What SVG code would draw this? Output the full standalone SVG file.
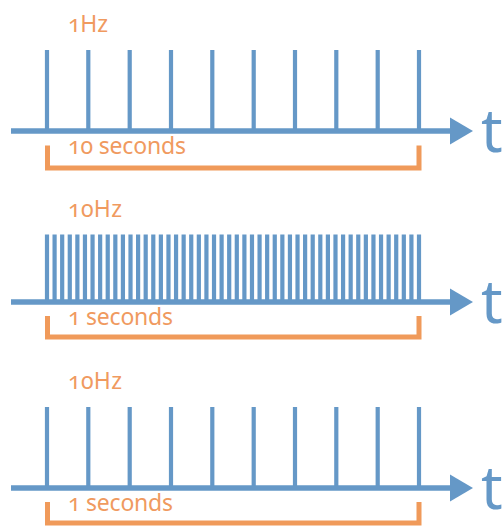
<svg xmlns="http://www.w3.org/2000/svg" width="503" height="526" viewBox="0 0 503 526">
  <style>
    .axis { stroke: #6598C7; stroke-width: 5.5; fill: none; }
    .spikes { stroke: #6598C7; stroke-width: 4.2; fill: none; }
    .head { fill: #6598C7; }
    .bracket { stroke: #F09A5A; stroke-width: 5; fill: none; stroke-linejoin: miter; }
    .lbl { font-family: "Noto Sans", "Open Sans", sans-serif; font-size: 23px; fill: #F09A5F; font-variant-numeric: oldstyle-nums; }
    .t { font-family: "Noto Sans", "Open Sans", sans-serif; font-size: 60px; fill: #6598C7; }
  </style>
  <rect width="503" height="526" fill="#ffffff"/>

  <!-- 1 Hz over 10 seconds -->
  <g id="panel-1hz">
    <path class="spikes" d="M47 50V131M88.3 50V131M129.7 50V131M171 50V131M212.3 50V131M253.7 50V131M295 50V131M336.3 50V131M377.7 50V131M419 50V131"/>
    <path class="axis" d="M11 131H452"/>
    <path class="head" d="M450 117.5L473 131L450 144.5Z"/>
    <text class="t" x="481" y="152">t</text>
    <text class="lbl" x="68" y="32" textLength="40" lengthAdjust="spacing">1Hz</text>
    <text class="lbl" x="68" y="154" textLength="118" lengthAdjust="spacing">10 seconds</text>
    <path class="bracket" d="M47.5 145.5V168H419V145.5"/>
  </g>

  <!-- 10 Hz over 1 second, dense -->
  <g id="panel-10hz-dense">
    <path class="spikes" d="M47 234.5V302M54.59 234.5V302M62.18 234.5V302M69.78 234.5V302M77.37 234.5V302M84.96 234.5V302M92.55 234.5V302M100.14 234.5V302M107.73 234.5V302M115.33 234.5V302M122.92 234.5V302M130.51 234.5V302M138.1 234.5V302M145.69 234.5V302M153.29 234.5V302M160.88 234.5V302M168.47 234.5V302M176.06 234.5V302M183.65 234.5V302M191.24 234.5V302M198.84 234.5V302M206.43 234.5V302M214.02 234.5V302M221.61 234.5V302M229.2 234.5V302M236.8 234.5V302M244.39 234.5V302M251.98 234.5V302M259.57 234.5V302M267.16 234.5V302M274.76 234.5V302M282.35 234.5V302M289.94 234.5V302M297.53 234.5V302M305.12 234.5V302M312.71 234.5V302M320.31 234.5V302M327.9 234.5V302M335.49 234.5V302M343.08 234.5V302M350.67 234.5V302M358.27 234.5V302M365.86 234.5V302M373.45 234.5V302M381.04 234.5V302M388.63 234.5V302M396.22 234.5V302M403.82 234.5V302M411.41 234.5V302M419 234.5V302"/>
    <path class="axis" d="M11 302H452"/>
    <path class="head" d="M450 288.5L473 302L450 315.5Z"/>
    <text class="t" x="481" y="323">t</text>
    <text class="lbl" x="68" y="217" textLength="54" lengthAdjust="spacing">10Hz</text>
    <text class="lbl" x="68" y="325" textLength="105" lengthAdjust="spacing">1 seconds</text>
    <path class="bracket" d="M47.5 316V337H419V316"/>
  </g>

  <!-- 10 Hz over 1 second, wide spacing -->
  <g id="panel-10hz-sparse">
    <path class="spikes" d="M47 407V488M88.3 407V488M129.7 407V488M171 407V488M212.3 407V488M253.7 407V488M295 407V488M336.3 407V488M377.7 407V488M419 407V488"/>
    <path class="axis" d="M11 488H452"/>
    <path class="head" d="M450 474.5L473 488L450 501.5Z"/>
    <text class="t" x="481" y="509">t</text>
    <text class="lbl" x="68" y="389" textLength="54" lengthAdjust="spacing">10Hz</text>
    <text class="lbl" x="68" y="510.5" textLength="105" lengthAdjust="spacing">1 seconds</text>
    <path class="bracket" d="M47.5 502V523H419V502"/>
  </g>
</svg>
